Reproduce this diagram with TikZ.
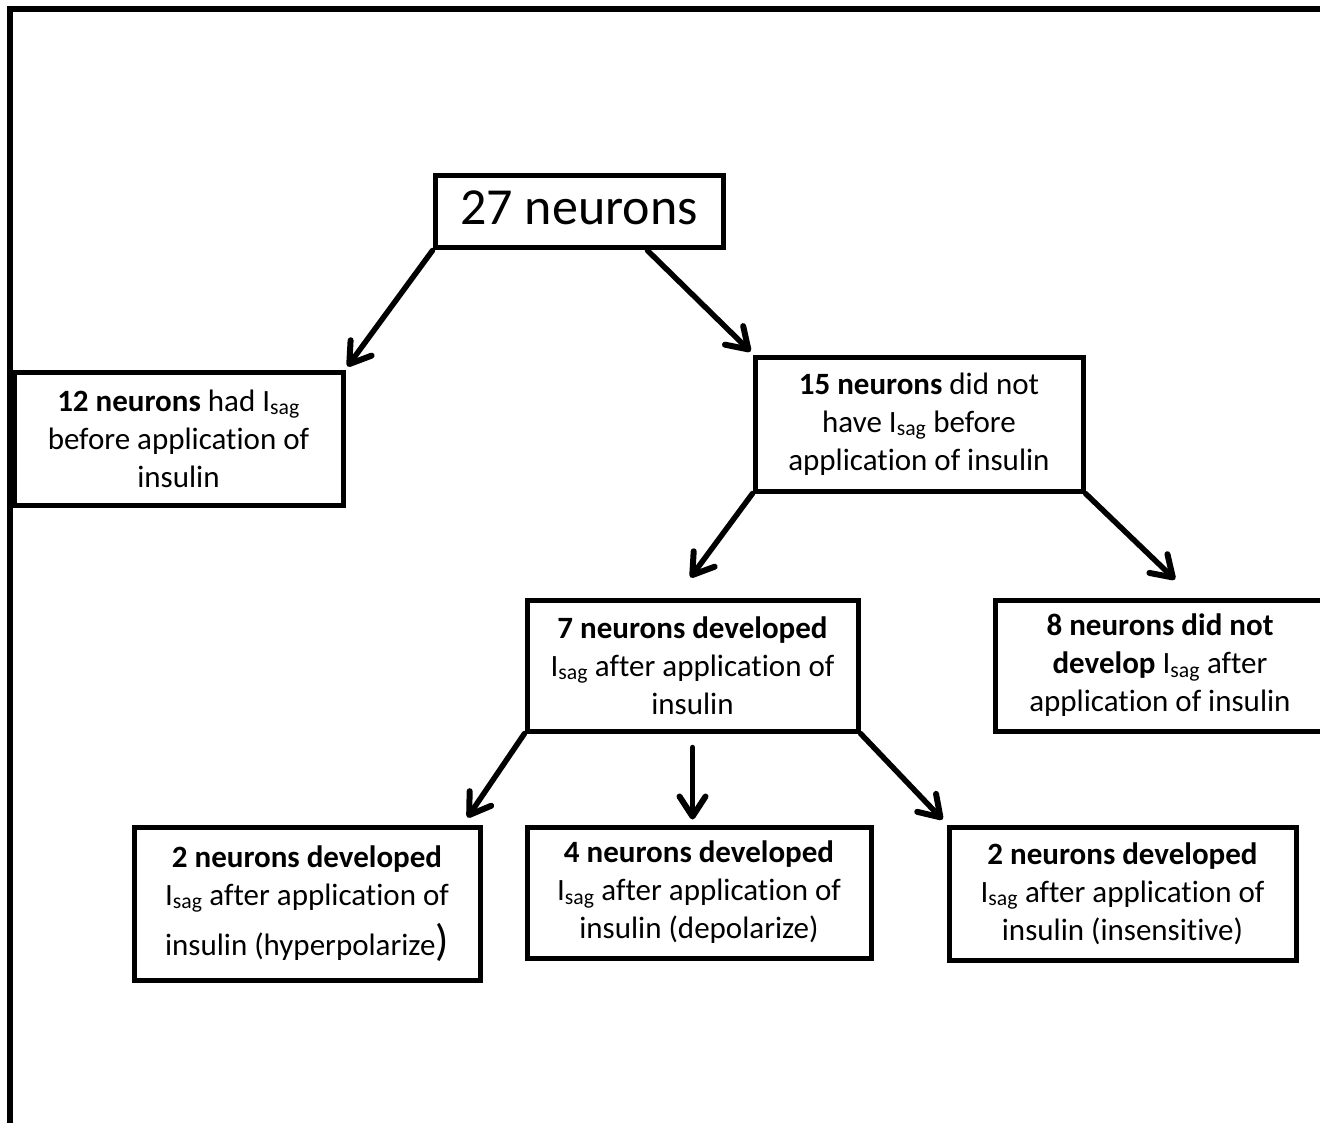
\documentclass[tikz,border=0pt]{standalone}
\usepackage{fontspec}
\setmainfont[Ligatures={NoCommon}]{Carlito}
\newcommand\noligti{t\kern0pt i}
\usetikzlibrary{arrows.meta,calc}
\begin{document}
\begin{tikzpicture}[x=1pt,y=-1pt,
  box/.style={draw,line width=5pt,align=center,inner sep=0pt,
    font=\fontsize{31}{38}\selectfont},
  arr/.style={line width=5.5pt,line cap=round,
    -{Straight Barb[length=20pt,width=26pt,line width=6pt,line cap=round,line join=round]}},
  frame/.style={line width=6pt}]
\useasboundingbox (0,0) rectangle (1320,1123);
\clip (0,0) rectangle (1320,1123);
\draw[frame] (10,1130) -- (10,9) -- (1330,9);

\node[box,minimum width=288pt,minimum height=72pt,font=\fontsize{52}{60}\selectfont] (n27) at (579,212) {\raisebox{9pt}{27 neurons}};
\node[box,minimum width=329pt,minimum height=133pt] (n12) at (178.5,438.5)
  {\textbf{12 neurons} had I\textsubscript{sag}\\ before applica\noligti on of\\ insulin};
\node[box,minimum width=328pt,minimum height=134pt] (n15) at (919,424)
  {\textbf{15 neurons} did not\\ have I\textsubscript{sag} before\\ applica\noligti on of insulin};
\node[box,minimum width=331pt,minimum height=131pt] (n7) at (692.5,665.5)
  {\textbf{7 neurons developed}\\ I\textsubscript{sag} after applica\noligti on of\\ insulin};
\node[box,minimum width=330pt,minimum height=131pt] (n8) at (1160,665.5)
  {\textbf{8 neurons did not}\\ \textbf{develop} I\textsubscript{sag} after\\ applica\noligti on of insulin};
\node[box,minimum width=346pt,minimum height=153pt] (n2h) at (307,903.5)
  {\textbf{2 neurons developed}\\ I\textsubscript{sag} after applica\noligti on of\\[10pt] insulin (hyperpolarize{\fontsize{44}{44}\selectfont )}};
\node[box,minimum width=344pt,minimum height=131pt] (n4) at (699,892.5)
  {\textbf{4 neurons developed}\\ I\textsubscript{sag} after applica\noligti on of\\ insulin (depolarize)};
\node[box,minimum width=347pt,minimum height=133pt] (n2i) at (1122.5,893.5)
  {\textbf{2 neurons developed}\\ I\textsubscript{sag} after applica\noligti on of\\ insulin (insensi\noligti ve)};

\coordinate (t6) at (n7.south |- n4.north);
\draw[arr] (n27.south west) -- ([xshift=2pt,yshift=3pt]n12.north east);
\draw[arr] ([xshift=-78pt]n27.south east) -- ([xshift=-2pt,yshift=3pt]n15.north west);
\draw[arr] (n15.south west) -- ([xshift=-2pt,yshift=20pt]n7.north);
\draw[arr] (n15.south east) -- ([xshift=15pt,yshift=18pt]n8.north);
\draw[arr] (n7.south west) -- ([xshift=-15pt,yshift=7pt]n2h.north east);
\draw[arr] ([yshift=-14pt]n7.south) -- ([yshift=5pt]t6);
\draw[arr] (n7.south east) -- ([xshift=-4pt,yshift=5pt]n2i.north west);
\end{tikzpicture}
\end{document}
